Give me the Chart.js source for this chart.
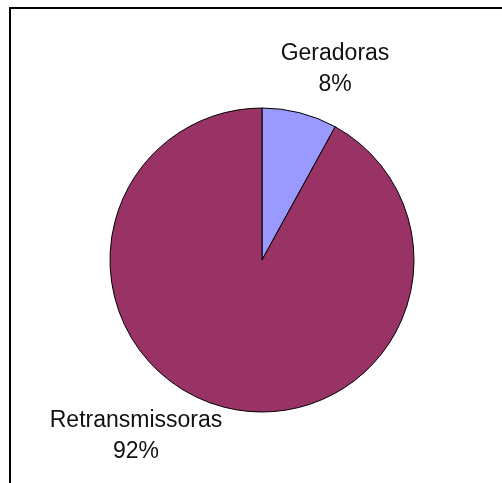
<!DOCTYPE html>
<html>
<head>
<meta charset="utf-8">
<script src="https://cdn.jsdelivr.net/npm/chart.js@4.4.1/dist/chart.umd.min.js"></script>
<style>
  html, body { margin: 0; padding: 0; background: #fff; }
  #wrap { position: relative; width: 502px; height: 483px; overflow: hidden; }
  #frame {
    position: absolute; left: 9px; top: 7px; right: -20px; bottom: -20px;
    border-top: 2px solid #000; border-left: 2px solid #000;
  }
  canvas { position: absolute; left: 0; top: 0; }
</style>
</head>
<body>
<div id="wrap">
  <div id="frame"></div>
  <canvas id="pie" width="502" height="483"></canvas>
</div>
<script>
const categories = ["Geradoras", "Retransmissoras"];
const shares = [8, 92];
const sliceColors = ["#9999ff", "#993366"];

// label block centres, offset from the pie centre
const labelOffsets = [[73, -191], [-126, 176]];

const pieLabels = {
  id: "pieLabels",
  afterDatasetsDraw(chart) {
    const ctx = chart.ctx;
    const meta = chart.getDatasetMeta(0);
    const total = shares.reduce((a, b) => a + b, 0);
    ctx.save();
    ctx.fillStyle = "#111";
    ctx.font = "23px 'Liberation Sans', Arial, sans-serif";
    ctx.textAlign = "center";
    ctx.textBaseline = "middle";
    meta.data.forEach((arc, i) => {
      const x = arc.x + labelOffsets[i][0];
      const y = arc.y + labelOffsets[i][1];
      const pct = Math.round(shares[i] / total * 100) + "%";
      ctx.fillText(categories[i], x, y - 15);
      ctx.fillText(pct, x, y + 16);
    });
    ctx.restore();
  }
};

new Chart(document.getElementById("pie"), {
  type: "pie",
  data: {
    labels: categories,
    datasets: [{
      data: shares,
      backgroundColor: sliceColors,
      borderColor: "#000",
      borderWidth: 1
    }]
  },
  options: {
    responsive: false,
    animation: false,
    radius: 152,
    layout: { padding: { left: 110, right: 88, top: 108, bottom: 71 } },
    plugins: {
      legend: { display: false },
      tooltip: { enabled: false }
    }
  },
  plugins: [pieLabels]
});
</script>
</body>
</html>
